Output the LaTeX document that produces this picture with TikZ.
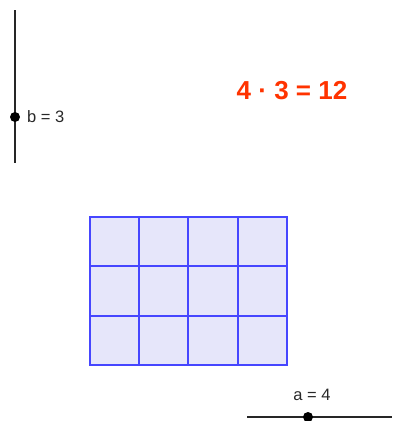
\documentclass[tikz,border=0pt]{standalone}
\usepackage{fontspec}
\setmainfont{Liberation Sans}
\definecolor{gridblue}{RGB}{70,70,255}
\definecolor{gridfill}{RGB}{230,230,250}
\definecolor{prodred}{RGB}{255,51,0}
\definecolor{labelgray}{RGB}{40,40,40}
\begin{document}
\begin{tikzpicture}[x=1pt,y=-1pt,
  slider/.style={line width=1.5pt, black!85},
  knob/.style={circle, fill=black, inner sep=0pt, minimum size=10pt},
  lbl/.style={font=\fontsize{16.5}{18}\selectfont, text=labelgray, inner sep=0pt},
  gridline/.style={draw=gridblue, line width=2pt}]
\useasboundingbox (0,0) rectangle (392,421);
% vertical slider b
\coordinate (btop) at (15,10);
\coordinate (bbot) at (15,163);
\draw[slider] (btop) -- (bbot);
\node[knob] (bpt) at (15,117) {};
\node[lbl, anchor=west] (blbl) at (27,117) {b = 3};
% horizontal slider a
\coordinate (aleft) at (247,417);
\coordinate (aright) at (392,417);
\draw[slider] (aleft) -- (aright);
\node[knob] (apt) at (308,417) {};
\node[lbl] (albl) at (312,395) {a = 4};
% product text
\node[font=\fontsize{26}{29}\selectfont\bfseries, text=prodred, inner sep=0pt] (prod) at (292,91) {4 · 3 = 12};
% grid
\node[fill=gridfill, minimum width=197pt, minimum height=148pt, inner sep=0pt, anchor=north west] (rect) at (90,217) {};
\foreach \x in {90,139,188,238,287}{
  \draw[gridline] (\x,217) -- (\x,365);
}
\foreach \y in {217,266,316,365}{
  \draw[gridline] (90,\y) -- (287,\y);
}
\draw[gridline] (rect.north west) rectangle (rect.south east);
\end{tikzpicture}
\end{document}
